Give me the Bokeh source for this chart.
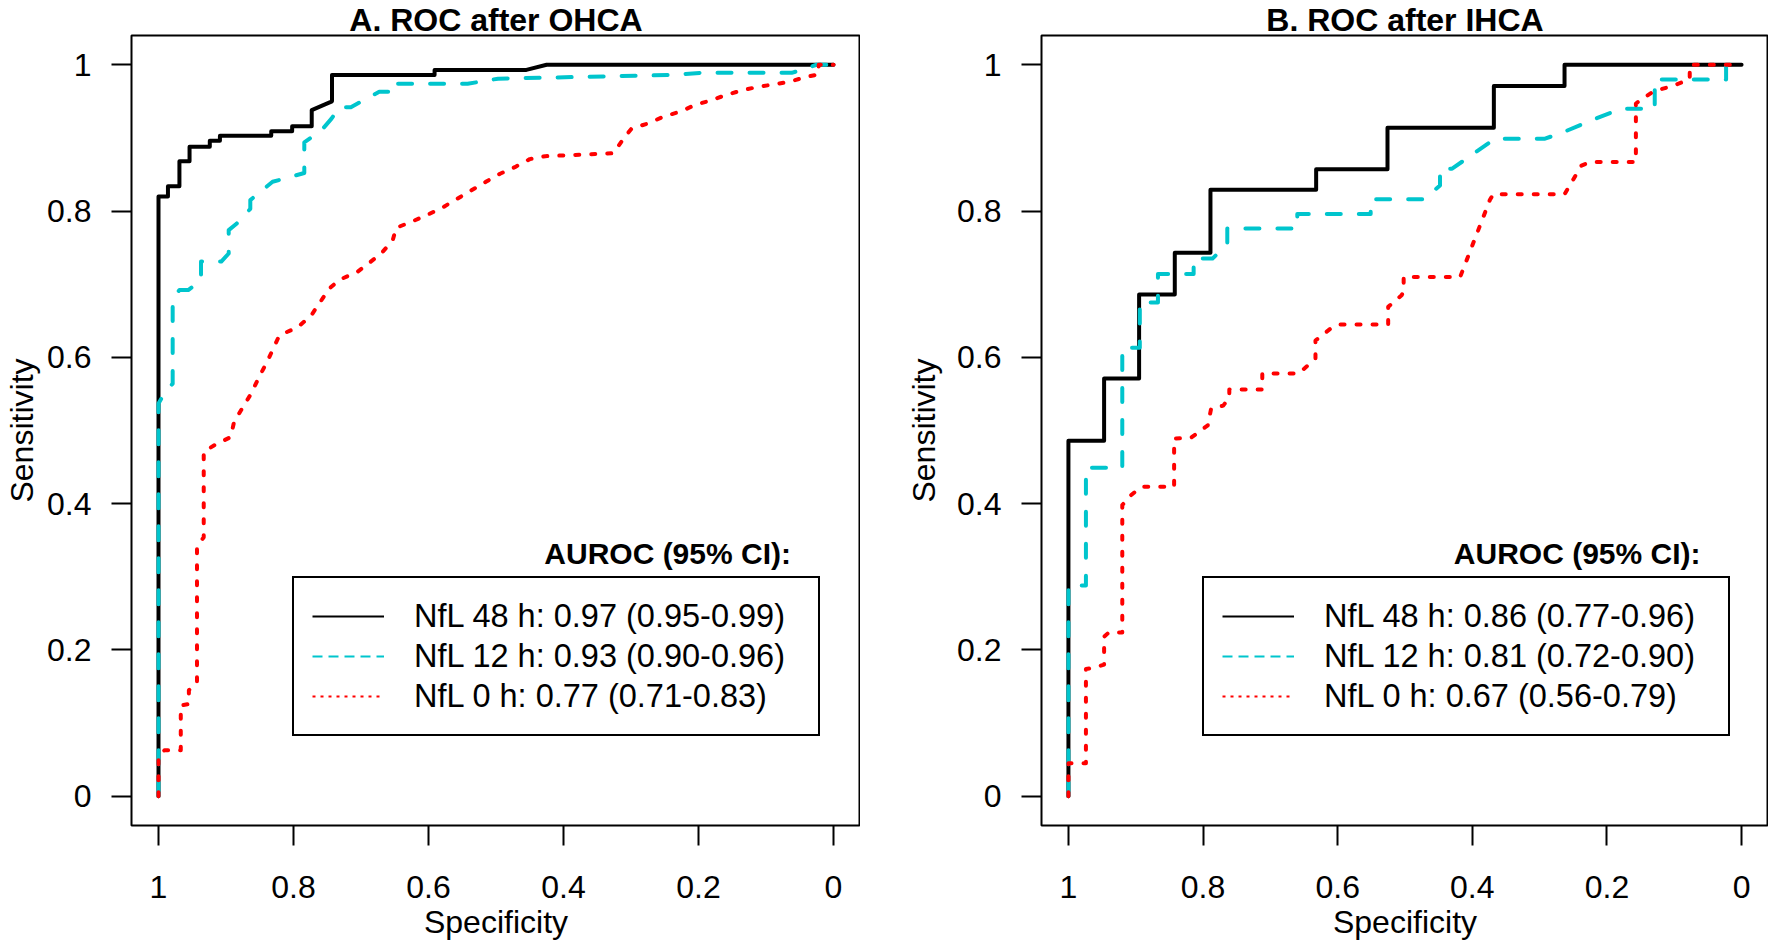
from bokeh.plotting import figure
from bokeh.models import (Range1d, FixedTicker, CustomJSTickFormatter, Legend,
                          LegendItem, Label, Title)
from bokeh.layouts import row
from bokeh.embed import file_html
from bokeh.resources import INLINE

# ---------------- data: Panel A (OHCA) ----------------
ohca_spec_48 = [1, 1, 0.986, 0.986, 0.969, 0.969, 0.954, 0.954, 0.924, 0.924, 0.909, 0.909,
                0.833, 0.833, 0.802, 0.802, 0.773, 0.773, 0.743, 0.743, 0.591, 0.591, 0.455,
                0.425, 0]
ohca_sens_48 = [0, 0.820, 0.820, 0.834, 0.834, 0.868, 0.868, 0.888, 0.888, 0.896, 0.896, 0.903,
                0.903, 0.909, 0.909, 0.916, 0.916, 0.938, 0.950, 0.986, 0.986, 0.993, 0.993,
                1.0, 1.0]

ohca_spec_12 = [1, 1, 0.990, 0.979, 0.979, 0.969, 0.956, 0.937, 0.937, 0.907, 0.896, 0.896,
                0.884, 0.864, 0.864, 0.831, 0.784, 0.784, 0.759, 0.744, 0.732, 0.715, 0.673,
                0.647, 0.647, 0.542, 0.497, 0.242, 0.195, 0.062, 0.047, 0.025, 0]
ohca_sens_12 = [0, 0.537, 0.553, 0.564, 0.680, 0.692, 0.692, 0.705, 0.731, 0.731, 0.742, 0.774,
                0.783, 0.803, 0.815, 0.840, 0.852, 0.894, 0.910, 0.926, 0.942, 0.942, 0.963,
                0.963, 0.974, 0.974, 0.981, 0.986, 0.989, 0.989, 0.993, 1.0, 1.0]

ohca_spec_0 = [1, 1, 0.991, 0.967, 0.967, 0.955, 0.955, 0.943, 0.943, 0.933, 0.933, 0.917,
               0.893, 0.888, 0.863, 0.851, 0.838, 0.828, 0.821, 0.794, 0.774, 0.747, 0.732,
               0.705, 0.688, 0.670, 0.653, 0.648, 0.621, 0.599, 0.577, 0.557, 0.537, 0.515,
               0.494, 0.472, 0.450, 0.427, 0.326, 0.311, 0.299, 0.274, 0.252, 0.227, 0.205,
               0.183, 0.158, 0.136, 0.111, 0.089, 0.064, 0.042, 0.022, 0.022, 0]
ohca_sens_0 = [0, 0.054, 0.063, 0.063, 0.124, 0.126, 0.145, 0.155, 0.341, 0.354, 0.471, 0.480,
               0.491, 0.512, 0.550, 0.573, 0.596, 0.616, 0.630, 0.641, 0.657, 0.694, 0.706,
               0.717, 0.729, 0.742, 0.760, 0.777, 0.787, 0.796, 0.806, 0.817, 0.828, 0.840,
               0.851, 0.860, 0.871, 0.875, 0.879, 0.899, 0.913, 0.920, 0.929, 0.936, 0.945,
               0.951, 0.959, 0.965, 0.970, 0.973, 0.977, 0.983, 0.987, 1.0, 1.0]

ohca_labels = ["NfL 48 h: 0.97 (0.95-0.99)",
               "NfL 12 h: 0.93 (0.90-0.96)",
               "NfL 0 h: 0.77 (0.71-0.83)"]

# ---------------- data: Panel B (IHCA) ----------------
ihca_spec_48 = [1, 1, 0.947, 0.947, 0.895, 0.895, 0.842, 0.842, 0.789, 0.789, 0.632, 0.632,
                0.526, 0.526, 0.368, 0.368, 0.263, 0.263, 0]
ihca_sens_48 = [0, 0.486, 0.486, 0.571, 0.571, 0.686, 0.686, 0.743, 0.743, 0.829, 0.829, 0.857,
                0.857, 0.914, 0.914, 0.971, 0.971, 1.0, 1.0]

ihca_spec_12 = [1, 1, 0.974, 0.974, 0.920, 0.920, 0.894, 0.894, 0.867, 0.867, 0.814, 0.814,
                0.786, 0.764, 0.764, 0.660, 0.660, 0.551, 0.551, 0.472, 0.448, 0.448, 0.430,
                0.366, 0.292, 0.267, 0.223, 0.179, 0.129, 0.129, 0.023, 0.023, 0]
ihca_sens_12 = [0, 0.288, 0.288, 0.449, 0.449, 0.613, 0.613, 0.675, 0.675, 0.714, 0.714, 0.735,
                0.735, 0.755, 0.776, 0.776, 0.796, 0.796, 0.816, 0.816, 0.835, 0.858, 0.858,
                0.899, 0.899, 0.907, 0.924, 0.940, 0.940, 0.980, 0.980, 1.0, 1.0]

ihca_spec_0 = [1, 1, 0.974, 0.974, 0.960, 0.947, 0.947, 0.940, 0.920, 0.920, 0.909, 0.892,
               0.843, 0.843, 0.818, 0.793, 0.788, 0.770, 0.761, 0.761, 0.712, 0.712, 0.658,
               0.633, 0.633, 0.611, 0.600, 0.525, 0.525, 0.505, 0.502, 0.502, 0.418, 0.374,
               0.369, 0.263, 0.238, 0.225, 0.157, 0.157, 0.132, 0.100, 0.077, 0.077, 0]
ihca_sens_0 = [0, 0.045, 0.045, 0.174, 0.176, 0.180, 0.218, 0.224, 0.224, 0.398, 0.410, 0.423,
               0.423, 0.489, 0.490, 0.507, 0.530, 0.534, 0.545, 0.556, 0.556, 0.578, 0.578,
               0.598, 0.623, 0.639, 0.645, 0.645, 0.669, 0.685, 0.690, 0.710, 0.710, 0.815,
               0.823, 0.823, 0.862, 0.867, 0.867, 0.947, 0.963, 0.972, 0.980, 1.0, 1.0]

ihca_labels = ["NfL 48 h: 0.86 (0.77-0.96)",
               "NfL 12 h: 0.81 (0.72-0.90)",
               "NfL 0 h: 0.67 (0.56-0.79)"]

tick_values = [0, 0.2, 0.4, 0.6, 0.8, 1.0]
legend_title = "AUROC (95% CI):"
x_title = "Specificity"
y_title = "Sensitivity"

# ---------------- styles ----------------
FONT = "Liberation Sans"
colors = ["#000000", "#00C5CD", "#FF0000"]
curve_dash = ["solid", "14 18", "4 12"]
legend_dash = ["solid", "10 6", "3 5"]


def make_panel(title, curves, labels, width, border_left, ylabel_standoff, title_x):
    p = figure(width=width, height=943,
               min_border_left=border_left, min_border_right=0,
               min_border_top=35, min_border_bottom=118,
               x_range=Range1d(1.04, -0.04), y_range=Range1d(-0.04, 1.04),
               output_backend="svg", toolbar_location=None)
    p.title = Title(text=title, align="center", text_font=FONT, text_font_style="bold",
                    text_font_size="32px", text_color="black", standoff=-4, offset=0)
    p.background_fill_color = "white"
    p.border_fill_color = "white"
    p.outline_line_color = "black"
    p.outline_line_width = 2
    p.outline_line_alpha = 1
    p.xgrid.visible = False
    p.ygrid.visible = False

    for ax in (p.xaxis[0], p.yaxis[0]):
        ax.ticker = FixedTicker(ticks=tick_values)
        ax.formatter = CustomJSTickFormatter(code="return String(Math.round(tick*10)/10);")
        ax.major_tick_out = 20
        ax.major_tick_in = 0
        ax.major_tick_line_width = 2
        ax.major_tick_line_color = "black"
        ax.minor_tick_line_color = None
        ax.axis_line_color = None
        ax.major_label_text_font = FONT
        ax.major_label_text_font_size = "32px"
        ax.major_label_text_color = "black"
        ax.axis_label_text_font = FONT
        ax.axis_label_text_font_size = "32px"
        ax.axis_label_text_font_style = "normal"
        ax.axis_label_text_color = "black"
    p.yaxis[0].axis_label = y_title
    p.xaxis[0].major_label_standoff = 30
    p.yaxis[0].major_label_standoff = 20
    p.yaxis[0].axis_label_standoff = ylabel_standoff

    # x-axis title as a panel below the axis
    p.add_layout(Title(text=x_title, align="center", text_font=FONT,
                       text_font_style="normal", text_font_size="32px",
                       text_color="black", standoff=2), "below")

    items = []
    for (spec, sens), col, cd, ld, lbl in zip(curves, colors, curve_dash, legend_dash, labels):
        p.line(spec, sens, line_color=col, line_width=4, line_dash=cd,
               line_cap="round", line_join="round")
        proxy = p.line([float("nan")], [float("nan")], line_color=col, line_width=2,
                       line_dash=ld)
        items.append(LegendItem(label=lbl, renderers=[proxy]))

    legend = Legend(items=items, location=(161, 89), margin=0, padding=18, spacing=0,
                    glyph_width=72, glyph_height=40, label_height=40, label_width=386,
                    label_standoff=30, label_text_font=FONT, label_text_font_size="32.5px",
                    label_text_color="black",
                    border_line_color="black", border_line_width=2, border_line_alpha=1,
                    background_fill_color="white", background_fill_alpha=1)
    p.add_layout(legend)

    # legend heading
    p.add_layout(Label(x=title_x, y=0.3325, text=legend_title, text_align="right",
                       text_baseline="middle", text_font=FONT, text_font_style="bold",
                       text_font_size="30px", text_color="black"))
    return p


pA = make_panel("A. ROC after OHCA",
                [(ohca_spec_48, ohca_sens_48), (ohca_spec_12, ohca_sens_12),
                 (ohca_spec_0, ohca_sens_0)],
                ohca_labels, width=860, border_left=131, ylabel_standoff=4, title_x=0.063)
pB = make_panel("B. ROC after IHCA",
                [(ihca_spec_48, ihca_sens_48), (ihca_spec_12, ihca_sens_12),
                 (ihca_spec_0, ihca_sens_0)],
                ihca_labels, width=908, border_left=181, ylabel_standoff=12, title_x=0.061)

layout = row(pA, pB)
open("out.html", "w").write(file_html(layout, INLINE, title="ROC"))
